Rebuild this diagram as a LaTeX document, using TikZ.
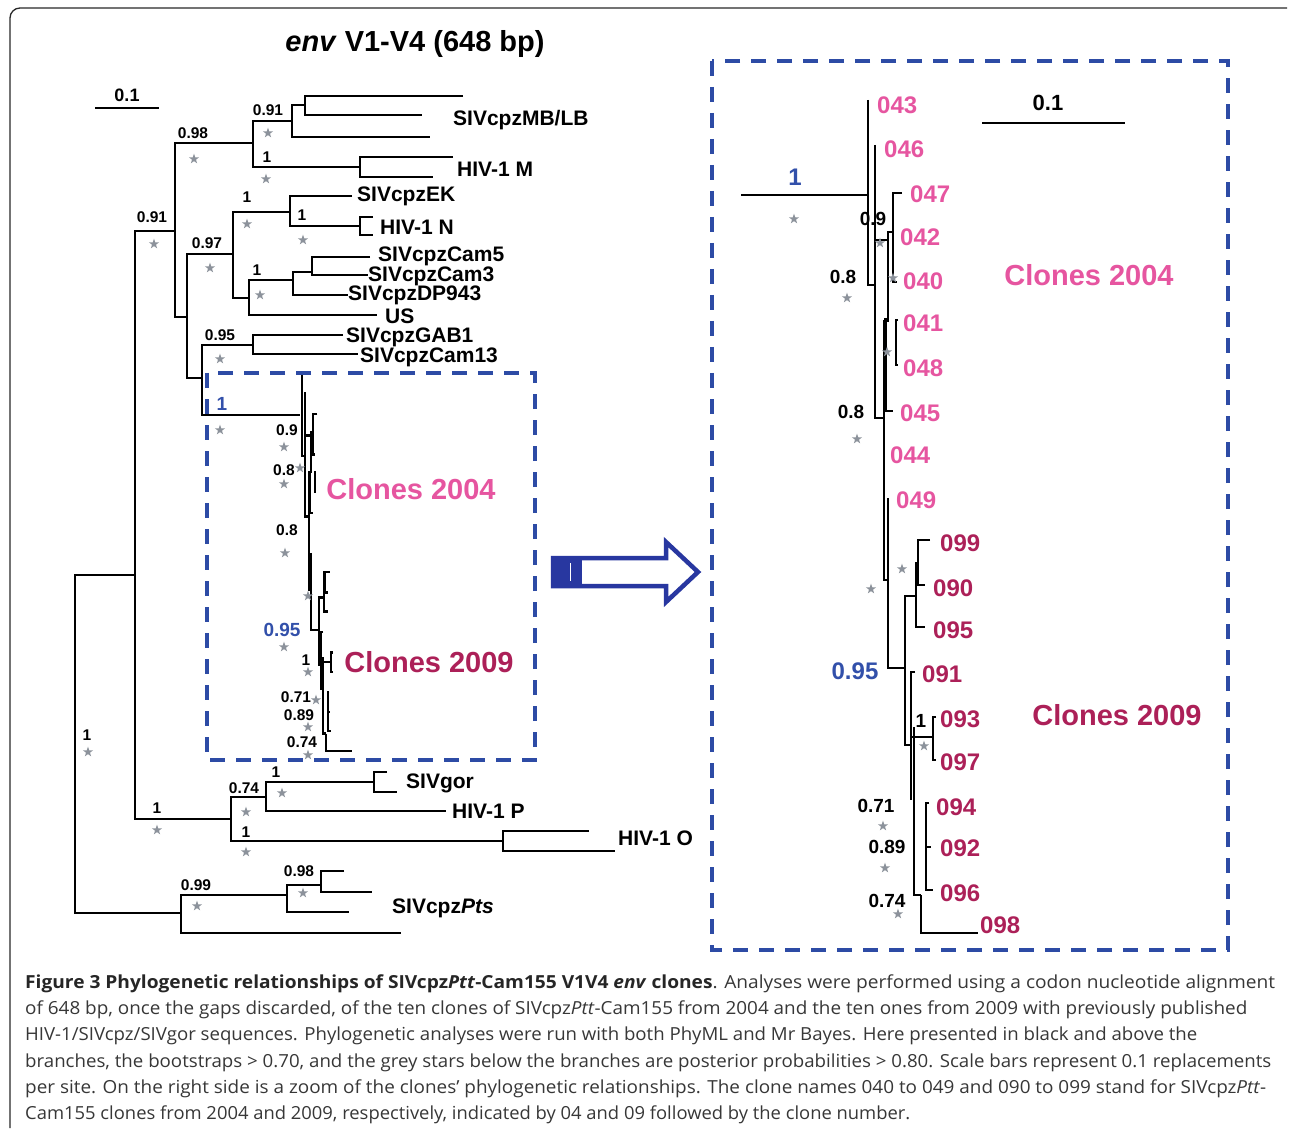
\documentclass[tikz,border=0pt]{standalone}
\usepackage{fontspec}
\usepackage{graphicx}
\newfontfamily\ars{Liberation Sans}
\newfontfamily\capf{Open Sans}
\newcommand\myfs[1]{\fontsize{#1}{#1}\selectfont}
\definecolor{pinkc}{RGB}{230,85,160}
\definecolor{crim}{RGB}{172,32,88}
\definecolor{blul}{RGB}{50,80,170}
\definecolor{boxb}{RGB}{45,75,165}
\definecolor{starc}{RGB}{140,146,155}
\definecolor{capc}{RGB}{55,55,55}
\definecolor{arrb}{RGB}{40,55,160}
\definecolor{framec}{RGB}{40,40,40}
\newcommand{\clonelines}{%
 \draw[brr] (868,100) -- (868,285) -- (875,285);
 \draw[brr] (875,145) -- (875,418) -- (884,418);
 \draw[brr] (875,240) -- (888,240);
 \draw[brr] (902,193) -| (893,282) -- (897,282);
 \draw[brr] (893,232) -- (888,232) -- (888,322);
 \draw[brr, line width=3pt] (885,318) -- (885,412);
 \draw[brr] (885,411) -- (893,411);
 \draw[brr] (898,320) -| (896,365) -- (898,365);
 \draw[brr] (884,320) -- (884,580) -- (888,580);
 \draw[brr] (888,498) -- (888,668) -- (905,668);
 \draw[brr] (916,596) -| (905,745) -- (911,745);
 \draw[brr] (918,563) -| (916,627) -- (925,627);
 \draw[brr] (930,540) -| (918,585) -- (925,585);
 \draw[brr] (915,672) -| (911,800);
 \draw[brr] (911,737) -- (933,737);
 \draw[brr] (936,717) -| (933,760) -- (936,760);
 \draw[brr] (914,727) -- (914,895) -- (921,895);
 \draw[brr] (921,895) -- (921,933) -- (978,933);
 \draw[brr] (929,803) -| (926,890) -- (933,890);
 \draw[brr] (926,847) -- (931,847);
}
\begin{document}
\begin{tikzpicture}[x=1pt,y=-1pt,
  br/.style={line width=2.8pt, line join=miter},
  brr/.style={line width=2.1pt, line join=miter},
  leafL/.style={font=\ars\bfseries\myfs{21}, anchor=west, inner sep=0},
  leafR/.style={font=\ars\bfseries\myfs{24}, anchor=west, inner sep=0},
  bsL/.style={font=\ars\bfseries\myfs{15.5}, inner sep=0},
  bsR/.style={font=\ars\bfseries\myfs{19}, inner sep=0},
  clo/.style={font=\ars\bfseries\myfs{29}, inner sep=0},
  dbox/.style={boxb, line width=3.5pt, dash pattern=on 15pt off 11pt},
  gstar/.pic={\fill[starc] (0,-5.3)--(-1.25,-1.72)--(-5.04,-1.64)--(-2.01,0.66)--(-3.11,4.29)--(0,2.12)--(3.11,4.29)--(2.01,0.66)--(5.04,-1.64)--(1.25,-1.72)--cycle;}
]
\useasboundingbox (0,0) rectangle (1290,1131);
\fill[white] (0,0) rectangle (1290,1131);
% frame
\draw[framec, line width=1.3pt] (10,1128) -- (10,18) arc[start angle=180, end angle=90, radius=10pt] -- (1287,8);

% title
\node[font=\ars\bfseries\myfs{29}, inner sep=0] (title) at (415,44) {\textit{env} V1-V4 (648 bp)};

% left scale bar
\draw[br] (95,108) -- (159,108);
\node[font=\ars\bfseries\myfs{18}, inner sep=0] (sc1) at (127,95) {0.1};

% ---------------- left tree ----------------
\draw[br] (463,96) -| (305,115) -- (422,115);
\draw[br] (305,105) -| (292,137) -- (430,137);
\draw[br] (292,121) -| (253,167) -- (360,167);
\draw[br] (453,157) -| (360,177) -- (433,177);
\draw[br] (253,143) -| (175,317) -- (187,317);
\draw[br] (233,254) -| (187,378) -- (202,378);
\draw[br] (290,212) -| (233,298) -- (249,298);
\draw[br] (352,196) -| (290,226) -- (360,226);
\draw[br] (373,217) -| (360,235) -- (373,235);
\draw[br] (293,280) -| (249,315) -- (377,315);
\draw[br] (312,272) -| (293,295) -- (348,295);
\draw[br] (370,257) -| (312,275) -- (368,275);
\draw[br] (253,345) -| (202,415) -- (300,415);
\draw[br] (343,335) -| (253,354) -- (358,354);
\draw[br] (175,231) -| (135,819) -- (231,819);
\draw[br] (135,575) -| (75,913) -- (181,913);
\draw[br] (266,797) -| (231,841) -- (503,841);
\draw[br] (374,782) -| (266,811) -- (446,811);
\draw[br] (387,772) -| (374,792) -- (397,792);
\draw[br] (589,831) -| (503,851) -- (615,851);
\draw[br] (287,895) -| (181,933) -- (401,933);
\draw[br] (321,885) -| (287,912) -- (349,912);
\draw[br] (344,871) -| (321,892) -- (372,892);
% compressed clone clade
\begin{scope}[shift={(302,415)}, xscale=0.45, yscale=0.455]
 \begin{scope}[shift={(-868,-195)}, brr/.style={line width=2.2pt, line join=miter}]
  \clonelines
 \end{scope}
\end{scope}

% left leaf labels
\node[leafL] (mblb) at (453,120) {SIVcpzMB/LB};
\node[leafL] (hm) at (457,169) {HIV-1 M};
\node[leafL] (ek) at (357,196) {SIVcpzEK};
\node[leafL] (hn) at (380,227) {HIV-1 N};
\node[leafL] (c5) at (378,256) {SIVcpzCam5};
\node[leafL] (c3) at (368,276) {SIVcpzCam3};
\node[leafL] (dp) at (348,295) {SIVcpzDP943};
\node[leafL] (us) at (385,316) {US};
\node[leafL] (gab) at (346,337) {SIVcpzGAB1};
\node[leafL] (c13) at (360,357) {SIVcpzCam13};
\node[leafL] (gor) at (406,783) {SIVgor};
\node[leafL] (hp) at (452,811) {HIV-1 P};
\node[leafL] (ho) at (618,838) {HIV-1 O};
\node[leafL] (pts) at (392,908) {SIVcpz\textit{Pts}};

% left bootstrap labels
\node[bsL] (b1) at (268,110) {0.91};
\node[bsL] (b2) at (193,133) {0.98};
\node[bsL] (b3) at (267,157) {1};
\node[bsL] (b4) at (152,217) {0.91};
\node[bsL] (b5) at (247,197) {1};
\node[bsL] (b6) at (302,215) {1};
\node[bsL] (b7) at (207,243) {0.97};
\node[bsL] (b8) at (257,270) {1};
\node[bsL] (b9) at (220,335) {0.95};
\node[bsL, text=blul, font=\ars\bfseries\myfs{19}] (b10) at (222,404) {1};
\node[bsL] (b11) at (287,430) {0.9};
\node[bsL] (b12) at (284,470) {0.8};
\node[bsL] (b13) at (287,530) {0.8};
\node[bsL, text=blul, font=\ars\bfseries\myfs{19}] (b14) at (282,630) {0.95};
\node[bsL] (b15) at (306,660) {1};
\node[bsL] (b16) at (296,697) {0.71};
\node[bsL] (b17) at (299,715) {0.89};
\node[bsL] (b18) at (302,742) {0.74};
\node[bsL] (b19) at (87,735) {1};
\node[bsL] (b20) at (157,808) {1};
\node[bsL] (b21) at (244,788) {0.74};
\node[bsL] (b22) at (276,772) {1};
\node[bsL] (b23) at (246,832) {1};
\node[bsL] (b24) at (196,885) {0.99};
\node[bsL] (b25) at (299,871) {0.98};

% left stars
\foreach \p in {(154,244),(194,159),(268,133),(266,179),(247,224),(303,240),(210,268),(260,295),(220,359),(220,430),(284,447),(300,468),(284,484),(285,553),(308,596),(284,647),(308,672),(316,700),(308,727),(308,755),(88,752),(157,830),(246,812),(282,793),(246,852),(197,906),(303,893)}
  \pic at \p {gstar};

\node[clo, text=pinkc] (cl04a) at (411,489) {Clones 2004};
\node[clo, text=crim] (cl09a) at (429,662) {Clones 2009};
\draw[dbox] (207,373) rectangle (535,760);

% arrow
\draw[arrb, line width=4.5pt, line join=miter, fill=white] (553,558) -- (666,558) -- (666,542) -- (698,572) -- (666,602) -- (666,586) -- (553,586) -- cycle;
\fill[arrb] (553,558) rectangle (582,586);
\draw[white, line width=1pt] (570,563) -- (570,581);

% ---------------- right tree ----------------
\draw[dbox] (712,61) rectangle (1228,950);
\draw[brr] (741,195) -- (868,195);
\clonelines
\draw[br] (982,123) -- (1125,123);
\node[font=\ars\bfseries\myfs{22}, inner sep=0] (sc2) at (1048,103) {0.1};

\node[leafR, text=pinkc] (l043) at (877,105) {043};
\node[leafR, text=pinkc] (l046) at (884,149) {046};
\node[leafR, text=pinkc] (l047) at (910,194) {047};
\node[leafR, text=pinkc] (l042) at (900,237) {042};
\node[leafR, text=pinkc] (l040) at (903,281) {040};
\node[leafR, text=pinkc] (l041) at (903,323) {041};
\node[leafR, text=pinkc] (l048) at (903,368) {048};
\node[leafR, text=pinkc] (l045) at (900,413) {045};
\node[leafR, text=pinkc] (l044) at (890,455) {044};
\node[leafR, text=pinkc] (l049) at (896,500) {049};
\node[leafR, text=crim] (l099) at (940,543) {099};
\node[leafR, text=crim] (l090) at (933,588) {090};
\node[leafR, text=crim] (l095) at (933,630) {095};
\node[leafR, text=crim] (l091) at (922,674) {091};
\node[leafR, text=crim] (l093) at (940,719) {093};
\node[leafR, text=crim] (l097) at (940,762) {097};
\node[leafR, text=crim] (l094) at (936,807) {094};
\node[leafR, text=crim] (l092) at (940,848) {092};
\node[leafR, text=crim] (l096) at (940,893) {096};
\node[leafR, text=crim] (l098) at (980,925) {098};

\node[bsR, text=blul, font=\ars\bfseries\myfs{24}] (r1) at (795,177) {1};
\node[bsR] (r2) at (873,219) {0.9};
\node[bsR] (r3) at (843,277) {0.8};
\node[bsR] (r4) at (851,412) {0.8};
\node[bsR, text=blul, font=\ars\bfseries\myfs{24}] (r5) at (855,671) {0.95};
\node[bsR] (r6) at (921,721) {1};
\node[bsR] (r7) at (876,806) {0.71};
\node[bsR] (r8) at (887,847) {0.89};
\node[bsR] (r9) at (887,901) {0.74};

\foreach \p in {(794,219),(847,298),(857,439),(880,243),(887,352),(893,278),(871,589),(902,569),(924,746),(883,826),(885,868),(898,914)}
  \pic at \p {gstar};

\node[clo, text=pinkc] (cl04b) at (1089,275) {Clones 2004};
\node[clo, text=crim] (cl09b) at (1117,715) {Clones 2009};

% ---------------- caption ----------------
\begin{scope}[every node/.style={anchor=base west, inner sep=0, text=capc}]
\node (cap1) at (25,988) {\resizebox{1250pt}{\height}{\capf\myfs{18}\textbf{\color{black!85}Figure 3 Phylogenetic relationships of SIVcpz\textit{Ptt}-Cam155 V1V4 \textit{env} clones}. Analyses were performed using a codon nucleotide alignment}};
\node (cap2) at (25,1014) {\resizebox{1222pt}{\height}{\capf\myfs{18}of 648 bp, once the gaps discarded, of the ten clones of SIVcpz\textit{Ptt}-Cam155 from 2004 and the ten ones from 2009 with previously published}};
\node (cap3) at (25,1040) {\resizebox{1172pt}{\height}{\capf\myfs{18}HIV-1/SIVcpz/SIVgor sequences. Phylogenetic analyses were run with both PhyML and Mr Bayes. Here presented in black and above the}};
\node (cap4) at (25,1067) {\resizebox{1246pt}{\height}{\capf\myfs{18}branches, the bootstraps > 0.70, and the grey stars below the branches are posterior probabilities > 0.80. Scale bars represent 0.1 replacements}};
\node (cap5) at (25,1093) {\resizebox{1241pt}{\height}{\capf\myfs{18}per site. On the right side is a zoom of the clones’ phylogenetic relationships. The clone names 040 to 049 and 090 to 099 stand for SIVcpz\textit{Ptt}-}};
\node (cap6) at (25,1119) {\resizebox{885pt}{\height}{\capf\myfs{18}Cam155 clones from 2004 and 2009, respectively, indicated by 04 and 09 followed by the clone number.}};
\end{scope}
\end{tikzpicture}
\end{document}
